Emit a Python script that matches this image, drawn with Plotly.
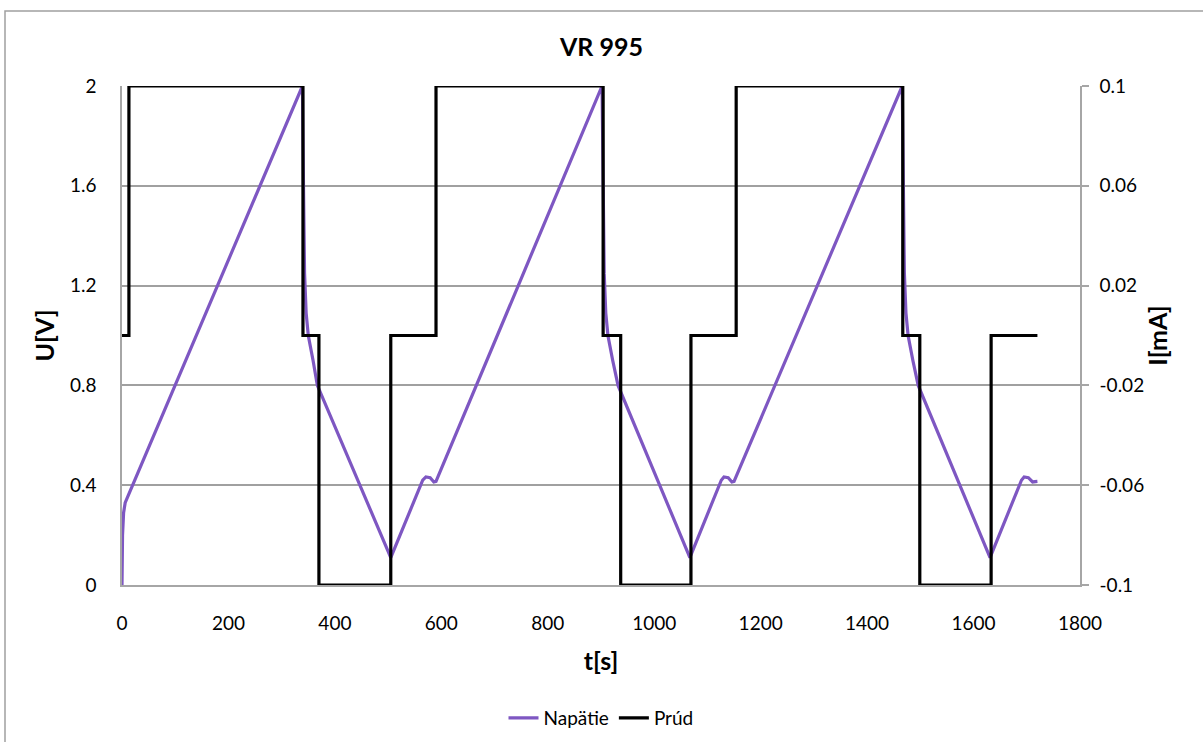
import plotly.graph_objects as go

# Voltage (Napätie) samples: time [s] and U [V]
t_voltage = [0, 1, 3, 6, 12,
             339, 341, 343, 346, 350, 359, 367,
             505, 565, 571, 579, 586, 590,
             902, 904, 906, 909, 913, 922, 932,
             1067, 1126, 1131, 1139, 1146, 1150,
             1466, 1468, 1470, 1473, 1477, 1486, 1496,
             1631, 1690, 1695, 1703, 1711, 1720]
u_voltage = [0.0, 0.2, 0.29, 0.33, 0.36,
             2.0, 1.6, 1.25, 1.09, 1.0, 0.9, 0.8,
             0.11, 0.42, 0.433, 0.43, 0.413, 0.415,
             2.0, 1.6, 1.25, 1.09, 1.0, 0.9, 0.8,
             0.11, 0.42, 0.433, 0.43, 0.413, 0.415,
             2.0, 1.6, 1.25, 1.09, 1.0, 0.9, 0.8,
             0.11, 0.42, 0.433, 0.43, 0.413, 0.415]

# Current (Prúd) step changes: time [s] and I [mA]
t_current = [0, 13, 340, 370, 505, 590, 904, 937, 1069, 1154, 1467, 1499, 1633, 1720]
i_current = [0, 0.1, 0, -0.1, 0, 0.1, 0, -0.1, 0, 0.1, 0, -0.1, 0, 0]

x_ticks = [0, 200, 400, 600, 800, 1000, 1200, 1400, 1600, 1800]
u_ticks = [0, 0.4, 0.8, 1.2, 1.6, 2.0]
u_tick_text = ["0", "0.4", "0.8", "1.2", "1.6", "2"]
i_ticks = [-0.1, -0.06, -0.02, 0.02, 0.06, 0.1]
i_tick_text = ["-0.1", "-0.06", "-0.02", "0.02", "0.06", "0.1"]

FONT = "Lato, Open Sans, sans-serif"
PW, PH = 958, 499

fig = go.Figure()
fig.add_trace(go.Scatter(x=t_voltage, y=u_voltage, mode="lines", name="Napätie",
                         line=dict(color="#7E57C2", width=3.2), yaxis="y"))
fig.add_trace(go.Scatter(x=t_current, y=i_current, mode="lines", name="Prúd",
                         line=dict(color="#000000", width=3.2, shape="hv"), yaxis="y2"))

fig.update_layout(
    width=1203, height=742,
    margin=dict(l=122, r=123, t=86, b=157, autoexpand=False),
    paper_bgcolor="white", plot_bgcolor="white",
    font=dict(family=FONT, size=19, color="#000000"),
    title=dict(text="<b>VR 995</b>", x=0.5, xanchor="center", y=1 - 47 / 742, yanchor="middle",
               font=dict(size=25, family=FONT)),
    xaxis=dict(range=[0, 1800], tickvals=x_ticks, ticktext=[str(v) for v in x_ticks],
               showgrid=False, zeroline=False, showline=True, linecolor="#A6A6A6", linewidth=1.5,
               ticks="", tickfont=dict(size=19), ticklabelstandoff=20,
               title=dict(text="<b>t[s]</b>", font=dict(size=25), standoff=20)),
    yaxis=dict(range=[0, 2], tickvals=u_ticks, ticktext=u_tick_text,
               showgrid=True, gridcolor="#A0A0A0", gridwidth=1.5, zeroline=False,
               showline=True, linecolor="#A6A6A6", linewidth=1.5, ticks="",
               tickfont=dict(size=19), ticklabelstandoff=20,
               title=dict(text="<b>U[V]</b>", font=dict(size=25), standoff=8)),
    yaxis2=dict(range=[-0.1, 0.1], tickvals=i_ticks, ticktext=i_tick_text,
                overlaying="y", side="right", showgrid=False, zeroline=False,
                showline=True, linecolor="#A6A6A6", linewidth=1.5,
                ticks="outside", ticklen=7, tickcolor="#A6A6A6", tickwidth=1.5,
                tickfont=dict(size=19), ticklabelstandoff=7,
                title=dict(text="<b>I[mA]</b>", font=dict(size=25), standoff=6)),
    legend=dict(orientation="h", x=0.5, xanchor="center", y=-(718 - 585) / PH, yanchor="middle",
                font=dict(size=19), itemwidth=30),
    showlegend=True,
    shapes=[dict(type="rect", xref="paper", yref="paper",
                 x0=(5 - 122) / PW, x1=(1215 - 122) / PW,
                 y0=-(760 - 585) / PH, y1=1 + (86 - 11) / PH,
                 line=dict(color="#A0A0A0", width=1.5), fillcolor="rgba(0,0,0,0)",
                 layer="below")],
)

fig.write_html("out.html", config={"displayModeBar": False},
               post_script="document.body.style.margin='0';")
